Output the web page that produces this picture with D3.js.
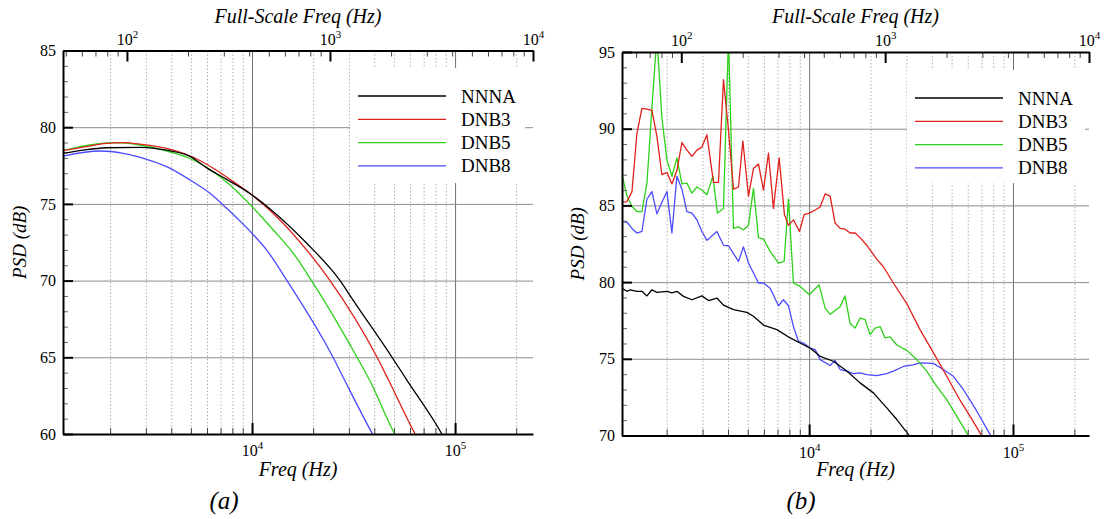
<!DOCTYPE html>
<html>
<head>
<meta charset="utf-8">
<script src="https://cdn.jsdelivr.net/npm/d3@7"></script>
<style>
  body { margin: 0; background: #fff; }
  svg { display: block; }
  svg text { font-family: 'Liberation Serif', 'Times New Roman', Times, serif; }
</style>
</head>
<body>
<svg id="chart" width="1111" height="519"></svg>
<script>
// ---- data ----
const seriesNames = ['NNNA', 'DNB3', 'DNB5', 'DNB8'];
const seriesColors = ['#000000', '#e0201c', '#2ed11a', '#4a4aff'];

const psdTicksA = [60, 65, 70, 75, 80, 85];
const psdTicksB = [70, 75, 80, 85, 90, 95];
const decadeTicks = [1e4, 1e5];
const minorFreqTicks = [2000, 3000, 4000, 5000, 6000, 7000, 8000, 9000,
  20000, 30000, 40000, 50000, 60000, 70000, 80000, 90000, 200000];
const fullScaleDecades = [1e2, 1e3, 1e4];
const fullScaleMinor = [50, 60, 70, 80, 90, 200, 300, 400, 500, 600, 700, 800, 900,
  2000, 3000, 4000, 5000, 6000, 7000, 8000, 9000];

// panel (a): [freq Hz, PSD dB]
const aNNNA = [[1172, 78.3], [1476, 78.51], [1924, 78.66], [2807, 78.69], [3800, 78.5],
  [4950, 78.1], [5980, 77.35], [7500, 76.6], [10000, 75.58], [12730, 74.49],
  [18600, 72.43], [27140, 70], [31450, 68.73], [48940, 65], [58000, 63.5], [86100, 60], [92000, 59.3]];
const aDNB3 = [[1172, 78.47], [1476, 78.7], [1924, 78.95], [2323, 78.99], [2807, 78.9],
  [4093, 78.51], [5140, 78.04], [6445, 77.32], [8090, 76.45], [10000, 75.58], [12730, 74.38],
  [18600, 71.99], [24230, 70], [41280, 65], [47090, 63.5], [63530, 60], [68000, 59.3]];
const aDNB5 = [[1172, 78.47], [1592, 78.84], [2074, 78.99], [2807, 78.84], [4093, 78.33],
  [5140, 77.86], [6445, 77.1], [7790, 76.23], [10000, 74.82], [12730, 73.3], [15970, 71.78],
  [19640, 70], [32900, 65], [37960, 63.5], [50400, 60], [54000, 59.3]];
const aDNB8 = [[1172, 78.12], [1783, 78.45], [2323, 78.3], [3030, 77.91], [3800, 77.43],
  [4950, 76.56], [6210, 75.69], [7500, 74.71], [10000, 73.08], [11810, 71.99], [14870, 70],
  [25060, 65], [28590, 63.5], [39230, 60], [42000, 59.3]];

// panel (b): [freq Hz, PSD dB]
const bNNNA = [[1208, 79.6], [1278, 79.4], [1326, 79.5], [1430, 79.4], [1513, 79.4], [1601, 79.1],
  [1694, 79.5], [1792, 79.33], [2007, 79.4], [2123, 79.3], [2246, 79.4], [2420, 79.07],
  [2661, 78.85], [2979, 79.1], [3209, 78.8], [3527, 78.96], [3801, 78.5], [4255, 78.2],
  [4950, 78.03], [5333, 77.77], [5970, 77.2], [6946, 76.9], [8071, 76.36], [9035, 76.03],
  [10110, 75.7], [11320, 75.16], [13150, 74.84], [15300, 74.2], [17780, 73.43], [20670, 72.78],
  [24040, 71.8], [26920, 71.04], [30680, 70.07], [33000, 69.5]];
const bDNB3 = [[1208, 85.2], [1278, 85.25], [1352, 85.9], [1430, 89.7], [1513, 91.33], [1601, 91.27],
  [1694, 91.2], [1792, 89.5], [1896, 87.0], [2007, 87.14], [2123, 86.4], [2246, 87.27],
  [2377, 89.1], [2515, 88.6], [2661, 88.2], [2815, 88.6], [2979, 88.8], [3152, 89.6],
  [3396, 86.5], [3592, 86.5], [3801, 93.2], [4022, 89.9], [4255, 86.06], [4502, 86.2],
  [4732, 89.2], [5041, 85.6], [5333, 87.4], [5643, 87.7], [5970, 86.0], [6317, 88.4],
  [6683, 84.8], [7128, 88.1], [7567, 84.4], [7918, 83.7], [8376, 84.06], [8965, 83.3],
  [9451, 84.4], [10030, 84.5], [10700, 84.7], [11320, 84.9], [11980, 85.75], [12680, 85.6],
  [13410, 83.85], [14190, 83.5], [15010, 83.45], [15890, 83.2], [16810, 83.2], [17780, 82.9],
  [19180, 82.4], [21470, 81.5], [23130, 81.0], [25900, 79.94], [30130, 78.6], [35000, 76.9],
  [40680, 75.4], [47320, 73.86], [54980, 72.3], [61550, 71.26], [68900, 70.17], [72000, 69.7]];
const bDNB5 = [[1208, 87.0], [1278, 85.6], [1352, 84.93], [1430, 84.6], [1513, 84.6], [1601, 86.45],
  [1694, 91.4], [1792, 96], [1896, 90.7], [2007, 87.97], [2123, 86.9], [2246, 88.1],
  [2377, 86.4], [2515, 86.45], [2661, 85.8], [2815, 86.2], [2979, 86.0], [3152, 85.7],
  [3372, 86.9], [3552, 84.5], [3801, 84.8], [4022, 96], [4255, 83.5], [4502, 83.6],
  [4764, 83.4], [5041, 83.7], [5333, 86.1], [5643, 82.9], [5970, 82.8], [6439, 82.0],
  [7073, 81.24], [7542, 81.35], [7918, 85.4], [8376, 79.94], [9035, 79.72], [10030, 79.18],
  [11190, 79.83], [11980, 78.3], [12680, 77.9], [14190, 78.4], [15010, 79.1], [15890, 77.3],
  [16810, 77.0], [17780, 77.66], [18810, 77.55], [19910, 76.58], [21060, 77.0], [22280, 77.1],
  [23580, 76.36], [24950, 76.43], [26920, 75.9], [30130, 75.55], [33730, 74.95], [37760, 74.2],
  [42270, 73.2], [47320, 72.34], [52970, 71.26], [59290, 70.17], [62000, 69.7]];
const bDNB8 = [[1208, 83.95], [1278, 83.9], [1352, 83.5], [1430, 83.2], [1513, 83.3], [1601, 85.4],
  [1694, 85.9], [1792, 84.45], [1896, 85.2], [2007, 85.9], [2123, 83.2], [2246, 86.9],
  [2377, 86.06], [2515, 84.6], [2661, 84.5], [2815, 84.06], [2979, 83.3], [3152, 82.72],
  [3527, 83.3], [3801, 82.4], [4022, 82.37], [4502, 81.35], [4764, 82.3], [5041, 81.24],
  [5643, 79.94], [5970, 79.94], [6439, 79.6], [7073, 78.46], [7482, 78.85], [7918, 78.46],
  [8376, 77.1], [8862, 76.14], [9377, 76.03], [10110, 75.7], [10700, 75.6], [11320, 74.95],
  [12680, 74.56], [13410, 74.9], [14190, 74.3], [15300, 74.2], [16490, 74.04], [17780, 74.08],
  [19180, 73.97], [21470, 73.9], [24040, 74.04], [25900, 74.2], [29000, 74.5], [32450, 74.6],
  [35000, 74.73], [40680, 74.7], [45530, 74.3], [50980, 73.86], [57060, 73.0], [66380, 71.6],
  [77150, 70.07], [80000, 69.8]];

// ---- layout ----
const panels = [
  { name: 'a', left: 63, right: 533, top: 50.5, bottom: 434, fMin: 1172, fMax: 242000,
    dbTicks: psdTicksA, series: [aNNNA, aDNB3, aDNB5, aDNB8], smooth: true,
    legend: { x: 350, y: 68, w: 175, h: 115 }, ylabX: 26, tagX: 224 },
  { name: 'b', left: 622, right: 1089, top: 52, bottom: 435.5, fMin: 1208, fMax: 236000,
    dbTicks: psdTicksB, series: [bNNNA, bDNB3, bDNB5, bDNB8], smooth: false,
    legend: { x: 907, y: 70, w: 178, h: 113 }, ylabX: 584, tagX: 801 }
];

const svg = d3.select('#chart');

function decadeLabel(sel, y) {
  sel.selectAll('.tick text').remove();
  const t = sel.selectAll('.tick').append('text')
    .attr('y', y)
    .attr('fill', '#000')
    .attr('text-anchor', 'middle')
    .style('font-size', '16px')
    .text('10');
  t.append('tspan')
    .style('font-size', '11px')
    .attr('dy', -7)
    .text(d => Math.round(Math.log10(d)));
}

function drawPanel(p) {
  const w = p.right - p.left;
  const h = p.bottom - p.top;
  const dbMin = d3.min(p.dbTicks), dbMax = d3.max(p.dbTicks);

  const x = d3.scaleLog().domain([p.fMin, p.fMax]).range([p.left, p.right]);
  const ratio = p.fMax / 1e4;
  const xTop = d3.scaleLog().domain([p.fMin / ratio, p.fMax / ratio]).range([p.left, p.right]);
  const y = d3.scaleLinear().domain([dbMin, dbMax]).range([p.bottom, p.top]);

  const g = svg.append('g');

  const minorF = minorFreqTicks.filter(f => f > p.fMin && f < p.fMax);
  const minorDb = d3.range(dbMin + 1, dbMax).filter(v => v % 5 !== 0);

  // dotted minor grid
  g.append('g')
    .attr('transform', `translate(0,${p.bottom})`)
    .call(d3.axisBottom(x).tickValues(minorF).tickSize(-h).tickSizeOuter(0).tickFormat(''))
    .call(a => a.select('.domain').remove())
    .call(a => a.selectAll('line').attr('stroke', '#b0b0b0').attr('stroke-dasharray', '1.5,2'));

  // decade grid
  g.append('g')
    .attr('transform', `translate(0,${p.bottom})`)
    .call(d3.axisBottom(x).tickValues(decadeTicks).tickSize(-h).tickSizeOuter(0).tickFormat(''))
    .call(a => a.select('.domain').remove())
    .call(a => a.selectAll('line').attr('stroke', '#707070'));

  // horizontal grid
  g.append('g')
    .attr('transform', `translate(${p.left},0)`)
    .call(d3.axisLeft(y).tickValues(p.dbTicks.filter(v => v > dbMin && v < dbMax)).tickSize(-w).tickFormat(''))
    .call(a => a.select('.domain').remove())
    .call(a => a.selectAll('line').attr('stroke', '#8c8c8c'));

  // legend background
  g.append('rect')
    .attr('x', p.legend.x).attr('y', p.legend.y)
    .attr('width', p.legend.w).attr('height', p.legend.h)
    .attr('fill', '#fff');

  // curves
  const clipId = 'clip-' + p.name;
  svg.append('clipPath').attr('id', clipId)
    .append('rect').attr('x', p.left).attr('y', p.top).attr('width', w).attr('height', h);

  const line = d3.line()
    .x(d => x(d[0]))
    .y(d => y(d[1]))
    .curve(p.smooth ? d3.curveMonotoneX : d3.curveLinear);

  const curves = g.append('g').attr('clip-path', `url(#${clipId})`);
  [3, 2, 1, 0].forEach(i => {
    curves.append('path')
      .datum(p.series[i])
      .attr('fill', 'none')
      .attr('stroke', seriesColors[i])
      .attr('stroke-width', 1.3)
      .attr('stroke-linejoin', 'round')
      .attr('d', line);
  });

  // legend entries
  const lg = g.append('g');
  seriesNames.forEach((name, i) => {
    const ly = p.legend.y + 28 + i * 23.3;
    lg.append('line')
      .attr('x1', p.legend.x + 8).attr('x2', p.legend.x + 96)
      .attr('y1', ly).attr('y2', ly)
      .attr('stroke', seriesColors[i]).attr('stroke-width', 1.3);
    lg.append('text')
      .attr('x', p.legend.x + 111).attr('y', ly + 6.5)
      .style('font-size', '19px')
      .text(name);
  });

  // bottom axis
  const bMinor = g.append('g')
    .attr('transform', `translate(0,${p.bottom})`)
    .call(d3.axisBottom(x).tickValues(minorF).tickSize(-6).tickSizeOuter(0).tickFormat(''));
  bMinor.select('.domain').remove();
  bMinor.selectAll('line').attr('stroke', '#444');

  const bMajor = g.append('g')
    .attr('transform', `translate(0,${p.bottom})`)
    .call(d3.axisBottom(x).tickValues(decadeTicks).tickSize(-11).tickSizeOuter(0));
  bMajor.select('.domain').attr('stroke', '#000').attr('stroke-width', 2);
  bMajor.selectAll('line').attr('stroke', '#000').attr('stroke-width', 2);
  decadeLabel(bMajor, 22);

  // top axis (full-scale frequency)
  const topMinorF = fullScaleMinor.filter(f => f > xTop.domain()[0] && f < xTop.domain()[1]);
  const tMinor = g.append('g')
    .attr('transform', `translate(0,${p.top})`)
    .call(d3.axisTop(xTop).tickValues(topMinorF).tickSize(-6).tickSizeOuter(0).tickFormat(''));
  tMinor.select('.domain').remove();
  tMinor.selectAll('line').attr('stroke', '#444');

  const tMajor = g.append('g')
    .attr('transform', `translate(0,${p.top})`)
    .call(d3.axisTop(xTop).tickValues(fullScaleDecades).tickSize(-11).tickSizeOuter(0));
  tMajor.select('.domain').attr('stroke', '#000').attr('stroke-width', 2);
  tMajor.selectAll('line').attr('stroke', '#000').attr('stroke-width', 2);
  decadeLabel(tMajor, -6);

  // left axis
  const lMinor = g.append('g')
    .attr('transform', `translate(${p.left},0)`)
    .call(d3.axisLeft(y).tickValues(minorDb).tickSize(-5).tickSizeOuter(0).tickFormat(''));
  lMinor.select('.domain').remove();
  lMinor.selectAll('line').attr('stroke', '#666');

  const lMajor = g.append('g')
    .attr('transform', `translate(${p.left},0)`)
    .call(d3.axisLeft(y).tickValues(p.dbTicks).tickSize(-10).tickSizeOuter(0).tickPadding(7));
  lMajor.select('.domain').attr('stroke', '#000').attr('stroke-width', 2);
  lMajor.selectAll('line').attr('stroke', '#000').attr('stroke-width', 2);
  lMajor.selectAll('text').attr('fill', '#000').style('font-size', '16px');

  // titles
  const cx = (p.left + p.right) / 2;
  g.append('text')
    .attr('x', cx).attr('y', 23)
    .attr('text-anchor', 'middle')
    .style('font-style', 'italic').style('font-size', '20px')
    .text('Full-Scale Freq (Hz)');
  g.append('text')
    .attr('x', cx).attr('y', 476)
    .attr('text-anchor', 'middle')
    .style('font-style', 'italic').style('font-size', '20px')
    .text('Freq (Hz)');
  g.append('text')
    .attr('transform', `translate(${p.ylabX},${(p.top + p.bottom) / 2}) rotate(-90)`)
    .attr('text-anchor', 'middle')
    .style('font-style', 'italic').style('font-size', '19px')
    .text('PSD (dB)');
  g.append('text')
    .attr('x', p.tagX).attr('y', 509)
    .attr('text-anchor', 'middle')
    .style('font-style', 'italic').style('font-size', '25px')
    .text('(' + p.name + ')');
}

panels.forEach(drawPanel);
</script>
</body>
</html>
